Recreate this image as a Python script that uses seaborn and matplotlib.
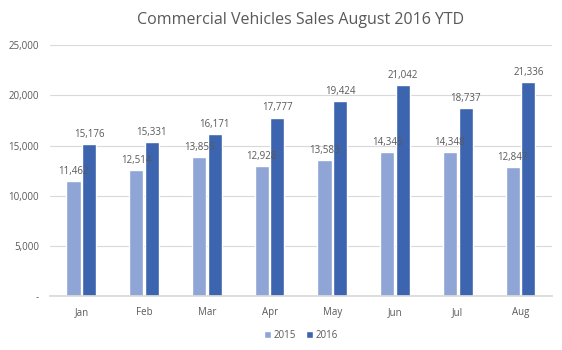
import seaborn as sns
import matplotlib.pyplot as plt
import pandas as pd
from matplotlib.ticker import FuncFormatter

months = ["Jan", "Feb", "Mar", "Apr", "May", "Jun", "Jul", "Aug"]
sales_2015 = [11462, 12514, 13855, 12928, 13583, 14345, 14348, 12847]
sales_2016 = [15176, 15331, 16171, 17777, 19424, 21042, 18737, 21336]

df = pd.DataFrame({
    "Month": months * 2,
    "Year": ["2015"] * len(months) + ["2016"] * len(months),
    "Sales": sales_2015 + sales_2016,
})

sns.set_theme(style="white")
plt.rcParams["font.family"] = ["Open Sans", "DejaVu Sans"]

fig = plt.figure(figsize=(5.62, 3.5), dpi=100)
ax = fig.add_axes([0.089, 0.154, 0.893, 0.717])

palette = {"2015": "#8FA5D6", "2016": "#3C64AF"}
sns.barplot(data=df, x="Month", y="Sales", hue="Year", palette=palette,
            width=0.5, gap=0.1, ax=ax, saturation=1, legend=True)

for cont in ax.containers:
    ax.bar_label(cont, labels=[f"{v:,.0f}" for v in cont.datavalues],
                 padding=3, fontsize=7, color="#595959")

ax.set_ylim(0, 25000)
ax.set_yticks(range(0, 25001, 5000))
ax.yaxis.set_major_formatter(FuncFormatter(lambda v, p: "-" if v == 0 else f"{v:,.0f}"))
ax.grid(axis="y", color="#D9D9D9", linewidth=0.8)
ax.set_axisbelow(True)
for s in ["top", "right", "left"]:
    ax.spines[s].set_visible(False)
ax.spines["bottom"].set_color("#D9D9D9")
ax.tick_params(axis="both", labelsize=7, colors="#595959", length=0)
ax.tick_params(axis="x", pad=8)
ax.tick_params(axis="y", pad=8)
ax.set_xlabel("")
ax.set_ylabel("")

ax.set_title("Commercial Vehicles Sales August 2016 YTD", fontsize=11.5,
             color="#595959", y=1.05)

ax.legend(loc="upper center", bbox_to_anchor=(0.5, -0.10), ncol=2, frameon=False,
          fontsize=7, handlelength=0.7, handleheight=0.7, handletextpad=0.3,
          columnspacing=1.0, labelcolor="#595959")

plt.savefig("out.png", dpi=100)
